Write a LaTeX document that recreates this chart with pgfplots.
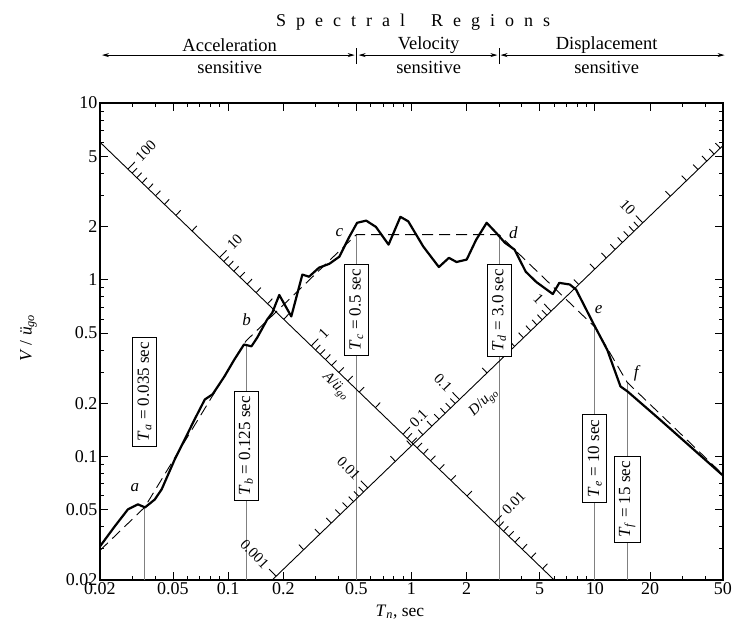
\documentclass[border=0pt]{standalone}
\usepackage{fontspec}
\setmainfont{Liberation Serif}
\usepackage{pgfplots}
\pgfplotsset{compat=1.18}
\usetikzlibrary{arrows.meta}

\newcommand{\ugo}{\textit{ü}\textsubscript{\textit{go}}}

\begin{document}
\begin{tikzpicture}
\useasboundingbox (-100pt,-50pt) rectangle (648pt,580pt);
\begin{axis}[
  at={(0,0)}, anchor=south west,
  xmode=log, ymode=log,
  width=623pt, height=477pt, scale only axis,
  xmin=0.02, xmax=50, ymin=0.02, ymax=10,
  xtick={0.02,0.05,0.1,0.2,0.5,1,2,5,10,20,50},
  xticklabels={0.02,0.05,0.1,0.2,0.5,1,2,5,10,20,50},
  ytick={0.02,0.05,0.1,0.2,0.5,1,2,5,10},
  yticklabels={0.02,0.05,0.1,0.2,0.5,1,2,5,10},
  minor xtick={0.03,0.04,0.06,0.07,0.08,0.09,0.3,0.4,0.6,0.7,0.8,0.9,3,4,6,7,8,9,30,40},
  minor ytick={0.03,0.04,0.06,0.07,0.08,0.09,0.3,0.4,0.6,0.7,0.8,0.9,3,4,6,7,8,9},
  tick align=inside,
  major tick length=8pt, minor tick length=4.5pt,
  every tick/.style={black, line width=0.8pt},
  axis line style={line width=1.2pt},
  tick label style={font=\fontsize{18}{20}\selectfont},
  xticklabel style={yshift=1pt},
  yticklabel style={xshift=1pt},
  xlabel={\textit{T}\textsubscript{\textit{n}}, sec},
  xlabel style={at={(axis description cs:0.4815,-0.067)}, anchor=center, font=\fontsize{17.5}{19}\selectfont},
  ylabel={\textit{V} / \ugo},
  ylabel style={at={(axis description cs:-0.115,0.507)}, anchor=center, font=\fontsize{17.5}{19}\selectfont},
  unbounded coords=jump,
  clip=false,
]

% reference periods (thin vertical lines)
\addplot[gray, line width=0.7pt] coordinates {(0.035,0.02) (0.035,0.0515)};
\addplot[gray, line width=0.7pt] coordinates {(0.125,0.02) (0.125,0.43)};
\addplot[gray, line width=0.7pt] coordinates {(0.5,0.02) (0.5,1.8)};
\addplot[gray, line width=0.7pt] coordinates {(3.0,0.02) (3.0,1.8)};
\addplot[gray, line width=0.7pt] coordinates {(10,0.02) (10,0.54)};
\addplot[gray, line width=0.7pt] coordinates {(15,0.02) (15,0.263)};

% diagonal A and D scales
\addplot[black, line width=0.9pt] coordinates {(0.02,6.0) (6.0,0.02)};
\addplot[black, line width=0.9pt] coordinates {(0.1739,0.02) (50,5.75)};

% A scale ticks (100 ... 0.003), short segments to the upper right
\addplot[black, line width=0.9pt] coordinates {
  (0.02995,4.007) (0.03183,4.278) (1,nan)
  (0.03176,3.778) (0.03375,4.034) (1,nan)
  (0.03395,3.535) (0.03608,3.774) (1,nan)
  (0.03667,3.272) (0.03897,3.494) (1,nan)
  (0.04018,2.987) (0.04270,3.189) (1,nan)
  (0.04492,2.671) (0.04774,2.852) (1,nan)
  (0.05187,2.313) (0.05512,2.470) (1,nan)
  (0.06352,1.889) (0.06750,2.017) (1,nan)
  (0.0947,1.267) (0.1006,1.353) (1,nan)
  (0.1004,1.195) (0.1067,1.276) (1,nan)
  (0.1074,1.117) (0.1141,1.193) (1,nan)
  (0.1160,1.034) (0.1233,1.104) (1,nan)
  (0.1270,0.9449) (0.1350,1.0089) (1,nan)
  (0.1420,0.8451) (0.1509,0.9023) (1,nan)
  (0.1640,0.7317) (0.1743,0.7812) (1,nan)
  (0.2009,0.5973) (0.2135,0.6377) (1,nan)
  (0.2995,0.4007) (0.3183,0.4278) (1,nan)
  (0.3176,0.3778) (0.3375,0.4034) (1,nan)
  (0.3395,0.3535) (0.3608,0.3774) (1,nan)
  (0.3667,0.3272) (0.3897,0.3494) (1,nan)
  (0.4018,0.2987) (0.4270,0.3189) (1,nan)
  (0.4492,0.2671) (0.4774,0.2852) (1,nan)
  (0.5187,0.2313) (0.5512,0.2470) (1,nan)
  (0.6352,0.1889) (0.6750,0.2017) (1,nan)
  (0.947,0.1267) (1.006,0.1353) (1,nan)
  (1.004,0.1195) (1.067,0.1276) (1,nan)
  (1.074,0.1117) (1.141,0.1193) (1,nan)
  (1.160,0.1034) (1.233,0.1104) (1,nan)
  (1.270,0.09449) (1.350,0.10089) (1,nan)
  (1.420,0.08451) (1.509,0.09023) (1,nan)
  (1.640,0.07317) (1.743,0.07812) (1,nan)
  (2.009,0.05973) (2.135,0.06377) (1,nan)
  (2.995,0.04007) (3.183,0.04278) (1,nan)
  (3.176,0.03778) (3.375,0.04034) (1,nan)
  (3.395,0.03535) (3.608,0.03774) (1,nan)
  (3.667,0.03272) (3.897,0.03494) (1,nan)
  (4.018,0.02987) (4.270,0.03189) (1,nan)
  (4.492,0.02671) (4.774,0.02852) (1,nan)
  (5.187,0.02313) (5.512,0.02470) (1,nan)
  (0.02841,4.224) (0.03099,4.638) (1,nan)
  (0.08983,1.336) (0.09799,1.467) (1,nan)
  (0.2841,0.4224) (0.3099,0.4638) (1,nan)
  (0.8983,0.1336) (0.9799,0.1467) (1,nan)
  (2.841,0.04224) (3.099,0.04638)
};
% D scale ticks (0.001 ... 70), short segments to the upper left
\addplot[black, line width=0.9pt] coordinates {
  (0.2582,0.02969) (0.2430,0.03170) (1,nan)
  (0.3162,0.03637) (0.2975,0.03883) (1,nan)
  (0.3651,0.04199) (0.3436,0.04483) (1,nan)
  (0.4082,0.04695) (0.3841,0.05013) (1,nan)
  (0.4472,0.05143) (0.4208,0.05491) (1,nan)
  (0.4830,0.05555) (0.4545,0.05931) (1,nan)
  (0.5164,0.05939) (0.4859,0.06341) (1,nan)
  (0.5477,0.06299) (0.5154,0.06725) (1,nan)
  (0.8165,0.09390) (0.7683,0.1003) (1,nan)
  (1.0,0.1150) (0.9410,0.1228) (1,nan)
  (1.1547,0.1328) (1.0866,0.1418) (1,nan)
  (1.2910,0.1485) (1.2148,0.1586) (1,nan)
  (1.4142,0.1626) (1.3308,0.1736) (1,nan)
  (1.5275,0.1757) (1.4374,0.1876) (1,nan)
  (1.6330,0.1878) (1.5367,0.2005) (1,nan)
  (1.7321,0.1992) (1.6299,0.2127) (1,nan)
  (2.582,0.2969) (2.430,0.3170) (1,nan)
  (3.162,0.3637) (2.975,0.3883) (1,nan)
  (3.651,0.4199) (3.436,0.4483) (1,nan)
  (4.082,0.4695) (3.841,0.5013) (1,nan)
  (4.472,0.5143) (4.208,0.5491) (1,nan)
  (4.830,0.5555) (4.545,0.5931) (1,nan)
  (5.164,0.5939) (4.859,0.6341) (1,nan)
  (5.477,0.6299) (5.154,0.6725) (1,nan)
  (8.165,0.9390) (7.683,1.003) (1,nan)
  (10.0,1.150) (9.410,1.228) (1,nan)
  (11.547,1.328) (10.866,1.418) (1,nan)
  (12.910,1.485) (12.148,1.586) (1,nan)
  (14.142,1.626) (13.308,1.736) (1,nan)
  (15.275,1.757) (14.374,1.876) (1,nan)
  (16.330,1.878) (15.367,2.005) (1,nan)
  (17.321,1.992) (16.299,2.127) (1,nan)
  (25.82,2.969) (24.30,3.170) (1,nan)
  (31.62,3.637) (29.75,3.883) (1,nan)
  (36.51,4.199) (34.36,4.483) (1,nan)
  (40.82,4.695) (38.41,5.013) (1,nan)
  (44.72,5.143) (42.08,5.491) (1,nan)
  (48.30,5.555) (45.45,5.931) (1,nan)
  (0.1826,0.02100) (0.1674,0.02306) (1,nan)
  (0.5774,0.06640) (0.5294,0.07291) (1,nan)
  (1.8257,0.2100) (1.6738,0.2306) (1,nan)
  (5.774,0.6640) (5.294,0.7291) (1,nan)
  (18.257,2.0996) (16.738,2.3054)
};

\begin{scope}[every node/.style={font=\fontsize{15}{17}\selectfont, inner sep=1pt}]
\node[rotate=46, anchor=west, xshift=13pt] at (axis cs:0.02841,4.224) {100};
\node[rotate=46, anchor=west, xshift=13pt] at (axis cs:0.08983,1.336) {10};
\node[rotate=46, anchor=west, xshift=13pt] at (axis cs:0.2841,0.4224) {1};
\node[rotate=46, anchor=west, xshift=12pt] at (axis cs:0.8983,0.1336) {0.1};
\node[rotate=46, anchor=west, xshift=13pt] at (axis cs:2.841,0.04224) {0.01};
\node[rotate=-46, anchor=east, xshift=-13pt] at (axis cs:0.1826,0.0210) {0.001};
\node[rotate=-46, anchor=east, xshift=-13pt] at (axis cs:0.5774,0.0664) {0.01};
\node[rotate=-46, anchor=east, xshift=-13pt] at (axis cs:1.8257,0.210) {0.1};
\node[rotate=-46, anchor=east, xshift=-13pt] at (axis cs:5.774,0.664) {1};
\node[rotate=-46, anchor=east, xshift=-13pt] at (axis cs:18.257,2.10) {10};
\node[rotate=-44, anchor=north, yshift=-4pt] at (axis cs:0.43,0.279) {\textit{A}/\ugo};
\node[rotate=44, anchor=north, yshift=-11pt] at (axis cs:2.1,0.2415) {\textit{D}/\textit{u}\textsubscript{\textit{go}}};
\end{scope}

% idealized spectrum
\addplot[black, line width=0.9pt, dash pattern=on 11pt off 6pt] coordinates {
  (0.02,0.0294) (0.035,0.0515) (0.125,0.45) (0.5,1.8) (3.0,1.8)
  (10,0.54) (15,0.263) (50,0.079)
};

% response spectrum
\addplot[black, line width=2.2pt, line join=round] coordinates {
  (0.02,0.031) (0.0241,0.0403) (0.0284,0.0502) (0.0322,0.0536) (0.0352,0.0515)
  (0.0398,0.0571) (0.0434,0.0652) (0.0511,0.0961) (0.058,0.125) (0.0656,0.162)
  (0.0746,0.210) (0.0823,0.225) (0.0953,0.283) (0.108,0.353) (0.122,0.43)
  (0.134,0.42) (0.144,0.47) (0.163,0.594) (0.174,0.65) (0.19,0.82)
  (0.221,0.62) (0.254,1.07) (0.276,1.04) (0.313,1.17) (0.356,1.23)
  (0.404,1.35) (0.458,1.75) (0.505,2.10) (0.566,2.16) (0.64,1.99)
  (0.75,1.58) (0.87,2.27) (0.96,2.14) (1.16,1.54) (1.41,1.18)
  (1.60,1.33) (1.76,1.26) (2.0,1.30) (2.25,1.68) (2.57,2.10)
  (2.9,1.84) (3.23,1.62) (3.65,1.48) (4.2,1.11) (4.8,0.97)
  (5.9,0.83) (6.4,0.96) (7.3,0.94) (7.9,0.88) (9.9,0.556)
  (11.7,0.40) (13.8,0.249) (15.1,0.233) (22.6,0.162) (50,0.078)
};

% boxes with the corner periods
\begin{scope}[every node/.style={draw, fill=white, rotate=90, inner sep=5pt, line width=0.8pt, font=\fontsize{17}{19}\selectfont}]
\node at (axis cs:0.035,0.233) {\textit{T}\textsubscript{\textit{a}} = 0.035 sec};
\node at (axis cs:0.125,0.115) {\textit{T}\textsubscript{\textit{b}} = 0.125 sec};
\node at (axis cs:0.5,0.677) {\textit{T}\textsubscript{\textit{c}} = 0.5 sec};
\node at (axis cs:3.0,0.67) {\textit{T}\textsubscript{\textit{d}} = 3.0 sec};
\node at (axis cs:10,0.0975) {\textit{T}\textsubscript{\textit{e}} = 10 sec};
\node at (axis cs:15,0.0571) {\textit{T}\textsubscript{\textit{f}} = 15 sec};
\end{scope}

% corner letters
\begin{scope}[every node/.style={font=\fontsize{17}{19}\selectfont\itshape}]
\node at (axis cs:0.031,0.0668) {a};
\node at (axis cs:0.126,0.594) {b};
\node at (axis cs:0.404,1.84) {c};
\node at (axis cs:3.6,1.84) {d};
\node at (axis cs:10.5,0.678) {e};
\node at (axis cs:16.8,0.297) {f};
\end{scope}

% spectral regions above the axis
\addplot[black, line width=0.8pt, {Stealth[length=7pt,width=4pt]}-{Stealth[length=7pt,width=4pt]}] coordinates {(0.0205,18.67) (0.49,18.67)};
\addplot[black, line width=0.8pt, {Stealth[length=7pt,width=4pt]}-{Stealth[length=7pt,width=4pt]}] coordinates {(0.515,18.67) (2.94,18.67)};
\addplot[black, line width=0.8pt, {Stealth[length=7pt,width=4pt]}-{Stealth[length=7pt,width=4pt]}] coordinates {(3.06,18.67) (51,18.67)};
\addplot[black, line width=0.6pt] coordinates {(0.503,16.6) (0.503,20.4)};
\addplot[black, line width=0.6pt] coordinates {(3.0,16.6) (3.0,20.4)};

\node[font=\fontsize{18}{20}\selectfont] at (axis cs:1.02,28.7)
  {S\kern10pt p\kern10pt e\kern10pt c\kern10pt t\kern10pt r\kern10pt a\kern10pt l\kern26pt R\kern10pt e\kern10pt g\kern10pt i\kern10pt o\kern10pt n\kern10pt s};
\begin{scope}[every node/.style={font=\fontsize{18.5}{20}\selectfont}]
\node at (axis cs:0.102,21.3) {Acceleration};
\node at (axis cs:0.102,15.8) {sensitive};
\node at (axis cs:1.24,21.3) {Velocity};
\node at (axis cs:1.24,15.8) {sensitive};
\node at (axis cs:11.6,21.3) {Displacement};
\node at (axis cs:11.6,15.8) {sensitive};
\end{scope}
\end{axis}
\end{tikzpicture}
\end{document}
